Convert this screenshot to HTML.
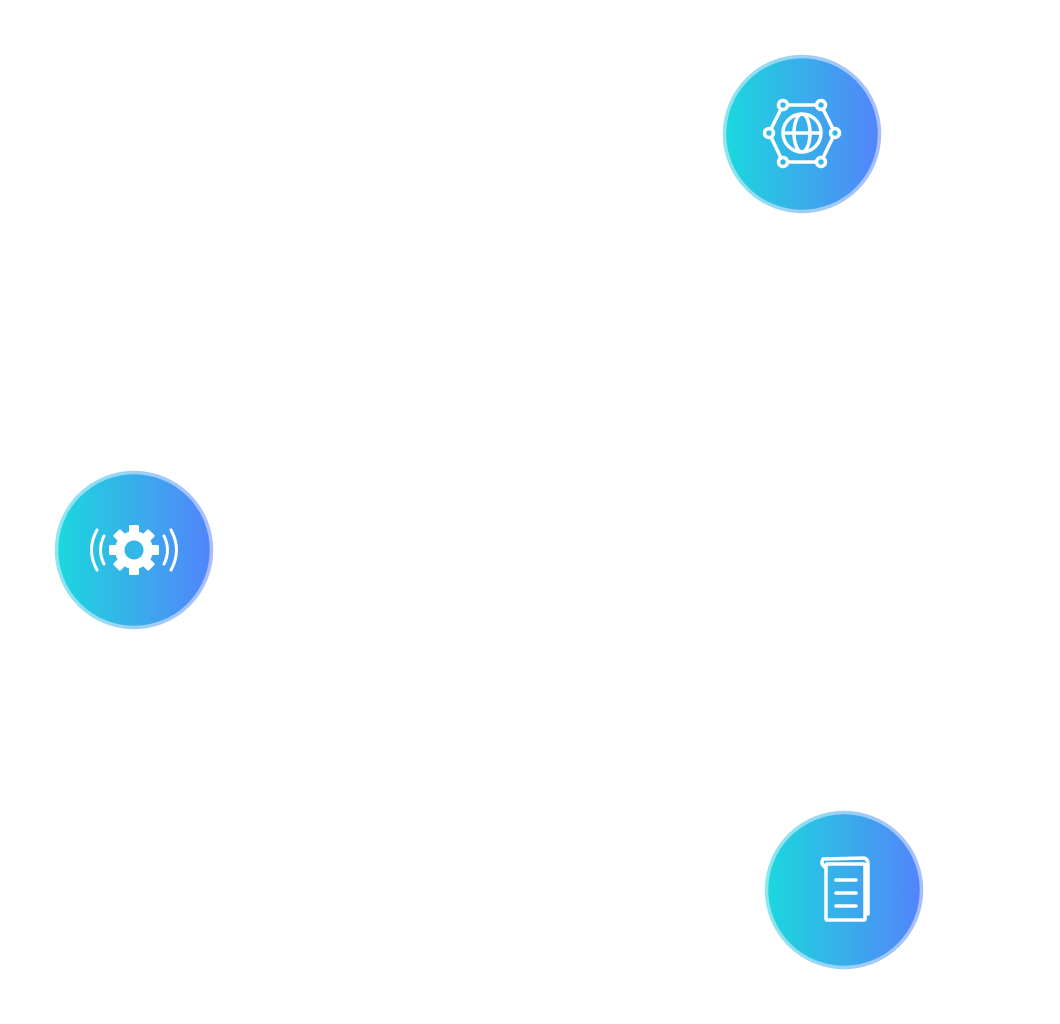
<!DOCTYPE html>
<html><head><style>html,body{margin:0;padding:0;background:#fff;width:1060px;height:1024px;overflow:hidden}</style></head>
<body>
<svg width="1060" height="1024" viewBox="0 0 1060 1024" xmlns="http://www.w3.org/2000/svg">
<defs>
<linearGradient id="g" x1="0" y1="0" x2="1" y2="0">
<stop offset="0" stop-color="#1bd8de"/><stop offset="0.5" stop-color="#38aeea"/><stop offset="1" stop-color="#5284fb"/>
</linearGradient>
<linearGradient id="b" x1="0" y1="0" x2="1" y2="0">
<stop offset="0" stop-color="#8ee6ee"/><stop offset="1" stop-color="#a9bdfd"/>
</linearGradient>
</defs>
<g fill="url(#g)" stroke="url(#b)" stroke-width="3.5">
<circle cx="802" cy="134" r="77.5"/>
<circle cx="134" cy="550" r="77.5"/>
<circle cx="844" cy="890" r="77.5"/>
</g>
<!-- globe network -->
<g stroke="#fff" stroke-width="3.5" fill="none">
<polygon points="783,105 821,105 835,133 821,162 783,162 769,133"/>
<circle cx="802" cy="133" r="19"/>
<ellipse cx="802" cy="133" rx="8" ry="19"/>
<line x1="783" y1="133" x2="821" y2="133"/>
</g>
<g fill="#33b6e8" stroke="#fff" stroke-width="3.5">
<circle cx="783" cy="105" r="4.5"/><circle cx="821" cy="105" r="4.5"/>
<circle cx="835" cy="133" r="4.5"/><circle cx="821" cy="162" r="4.5"/>
<circle cx="783" cy="162" r="4.5"/><circle cx="769" cy="133" r="4.5"/>
</g>
<!-- gear -->
<g fill="#fff">
<g transform="translate(134,550)">
<rect x="-5" y="-25" width="10" height="50" rx="1.5"/>
<rect x="-5" y="-25" width="10" height="50" rx="1.5" transform="rotate(45)"/>
<rect x="-5" y="-25" width="10" height="50" rx="1.5" transform="rotate(90)"/>
<rect x="-5" y="-25" width="10" height="50" rx="1.5" transform="rotate(135)"/>
<circle r="19"/>
</g>
</g>
<circle cx="134" cy="550" r="9.5" fill="#33b6e8"/>
<g stroke="#fff" stroke-width="3" fill="none" stroke-linecap="round">
<path d="M97,530 Q86,550 97,570"/>
<path d="M104,536 Q97,550 104,564"/>
<path d="M171,530 Q182,550 171,570"/>
<path d="M164,536 Q171,550 164,564"/>
</g>
<!-- document -->
<g stroke="#fff" stroke-width="3.5" fill="none" stroke-linecap="round">
<rect x="826" y="864" width="39" height="56" rx="1"/>
<path d="M826,868 Q820,864 823,859 L864,858 Q868,859 868,864 L868,914"/>
<line x1="836" y1="880" x2="856" y2="880"/>
<line x1="836" y1="893" x2="856" y2="893"/>
<line x1="836" y1="906" x2="856" y2="906"/>
</g>
</svg>
</body></html>
